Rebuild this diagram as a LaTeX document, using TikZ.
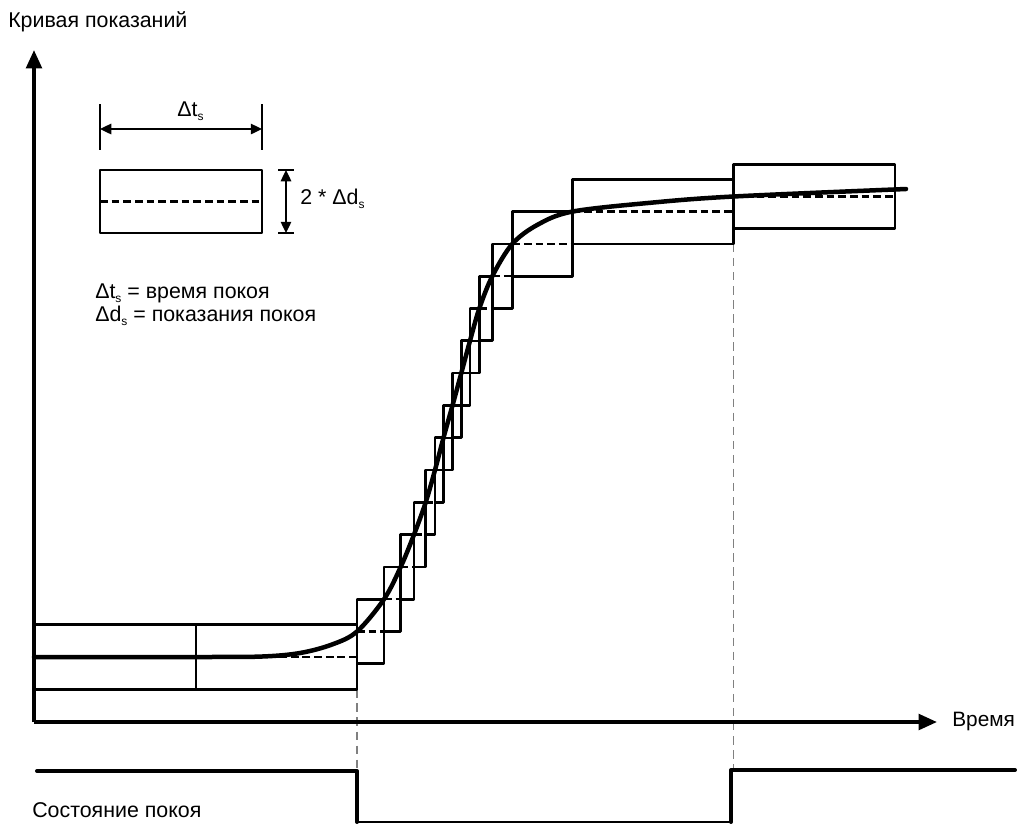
\documentclass[tikz,border=0pt]{standalone}
\usepackage{fontspec}
\setmainfont{Liberation Sans}
\usetikzlibrary{arrows.meta}

\tikzset{
  box/.style={line width=1.9pt},
  mid/.style={line width=1.7pt, dash pattern=on 5.5pt off 2.8pt},
  guide/.style={gray, line width=0.8pt, dash pattern=on 6pt off 4pt},
  axis/.style={line width=2.6pt, -{Triangle[length=13pt,width=11pt]}},
  dim/.style={line width=1pt},
  lbl/.style={anchor=west, inner sep=0pt, font=\fontsize{15.2}{18}\selectfont},
}
\newcommand{\sbs}[1]{\raisebox{-3pt}{\fontsize{8.5}{9}\selectfont #1}}

\begin{document}
\begin{tikzpicture}[x=0.025cm,y=-0.025cm,>={Triangle[length=8pt,width=7.5pt]},line join=round]
	  \useasboundingbox (0,0) rectangle (1017,825);
	  % guides
	  \draw[guide] (357,689.3) -- (357,771);
	  \draw[guide] (733.3,243.9) -- (733.3,770);
	  % axes
	  \draw[axis] (34,722) -- (34,50);
	  \draw[axis] (34,722) -- (937,722);
	  \node[lbl] (title) at (8,22) {Кривая показаний};
	  \node[lbl,font=\fontsize{14.8}{18}\selectfont] (time) at (952,721) {Время};
	  % legend
	  \draw[box] (100,170) rectangle (262,233);
	  \draw[mid] (100,201.5) -- (262,201.5);
	  \draw[dim] (100,104) -- (100,150);
	  \draw[dim] (262,104) -- (262,150);
	  \draw[dim,<->] (100,129) -- (262,129);
	  \draw[dim] (278,170) -- (294,170);
	  \draw[dim] (278,233) -- (294,233);
	  \draw[dim,<->] (286,170) -- (286,233);
	  \node[lbl] (dt) at (177,111) {Δt\sbs{s}};
	  \node[lbl] (dd) at (300,199) {2 * Δd\sbs{s}};
	  \node[lbl] (leg1) at (95,293) {Δt\sbs{s} = время покоя};
	  \node[lbl] (leg2) at (95,316) {Δd\sbs{s} = показания покоя};
	  % rest boxes
	  \draw[box] (34,624.7) rectangle (196,689.3);
	  \draw[box] (196,624.7) rectangle (357,689.3);
	  \draw[mid] (34,657) -- (357,657);
	  % boxes along the rise
	  \draw[box] (357,599.2) rectangle (384,663.8);
	  \draw[mid] (357,631.5) -- (384,631.5);
	  \draw[box] (384,566.9) rectangle (400.7,631.5);
	  \draw[mid] (384,599.2) -- (400.7,599.2);
	  \draw[box] (400.7,534.6) rectangle (414,599.2);
	  \draw[mid] (400.7,566.9) -- (414,566.9);
	  \draw[box] (414,502.3) rectangle (425.7,566.9);
	  \draw[mid] (414,534.6) -- (425.7,534.6);
	  \draw[box] (425.7,470) rectangle (435,534.6);
	  \draw[mid] (425.7,502.3) -- (435,502.3);
	  \draw[box] (435,437.7) rectangle (443.5,502.3);
	  \draw[mid] (435,470) -- (443.5,470);
	  \draw[box] (443.5,405.4) rectangle (452.5,470);
	  \draw[mid] (443.5,437.7) -- (452.5,437.7);
	  \draw[box] (452.5,373.1) rectangle (461.3,437.7);
	  \draw[mid] (452.5,405.4) -- (461.3,405.4);
	  \draw[box] (461.3,340.8) rectangle (470,405.4);
	  \draw[mid] (461.3,373.1) -- (470,373.1);
	  \draw[box] (470,308.5) rectangle (479.3,373.1);
	  \draw[mid] (470,340.8) -- (479.3,340.8);
	  \draw[box] (479.3,276.2) rectangle (492.3,340.8);
	  \draw[mid] (479.3,308.5) -- (492.3,308.5);
	  \draw[box] (492.3,243.9) rectangle (512.3,308.5);
	  \draw[mid] (492.3,276.2) -- (512.3,276.2);
	  \draw[box] (512.3,211.6) rectangle (572.3,276.2);
	  \draw[mid] (512.3,243.9) -- (572.3,243.9);
	  \draw[box] (572.3,179.3) rectangle (733.3,243.9);
	  \draw[mid] (572.3,211.6) -- (733.3,211.6);
	  \draw[box] (733.3,164.2) rectangle (895,228.8);
	  \draw[mid] (733.3,196.5) -- (895,196.5);
	  % reading curve
	  \draw[line width=3.2pt,line cap=round] plot[smooth,tension=0.55] coordinates {
	    (34,657) (200,657) (262,656.5) (300,653) (332,644.5) (357,631.5)
	    (384,599.2) (400.7,566.9) (414,534.6) (425.7,502.3) (435,470)
	    (443.5,437.7) (452.5,405.4) (461.3,373.1) (470,340.8) (479.3,308.5)
	    (492.3,276.2) (512.3,243.9) (538,224.5) (572.3,211.6) (650,202.8)
	    (733.3,196.5) (906,189)};
	  % rest state
	  \draw[line width=2.8pt,line cap=round] (37,771) -- (357,771) -- (357,822);
	  \draw[line width=1pt] (357,822) -- (731,822);
	  \draw[line width=2.8pt,line cap=round] (731,822) -- (731,770) -- (1015,770);
	  \node[lbl] (state) at (32,810) {Состояние покоя};
	\end{tikzpicture}
\end{document}
